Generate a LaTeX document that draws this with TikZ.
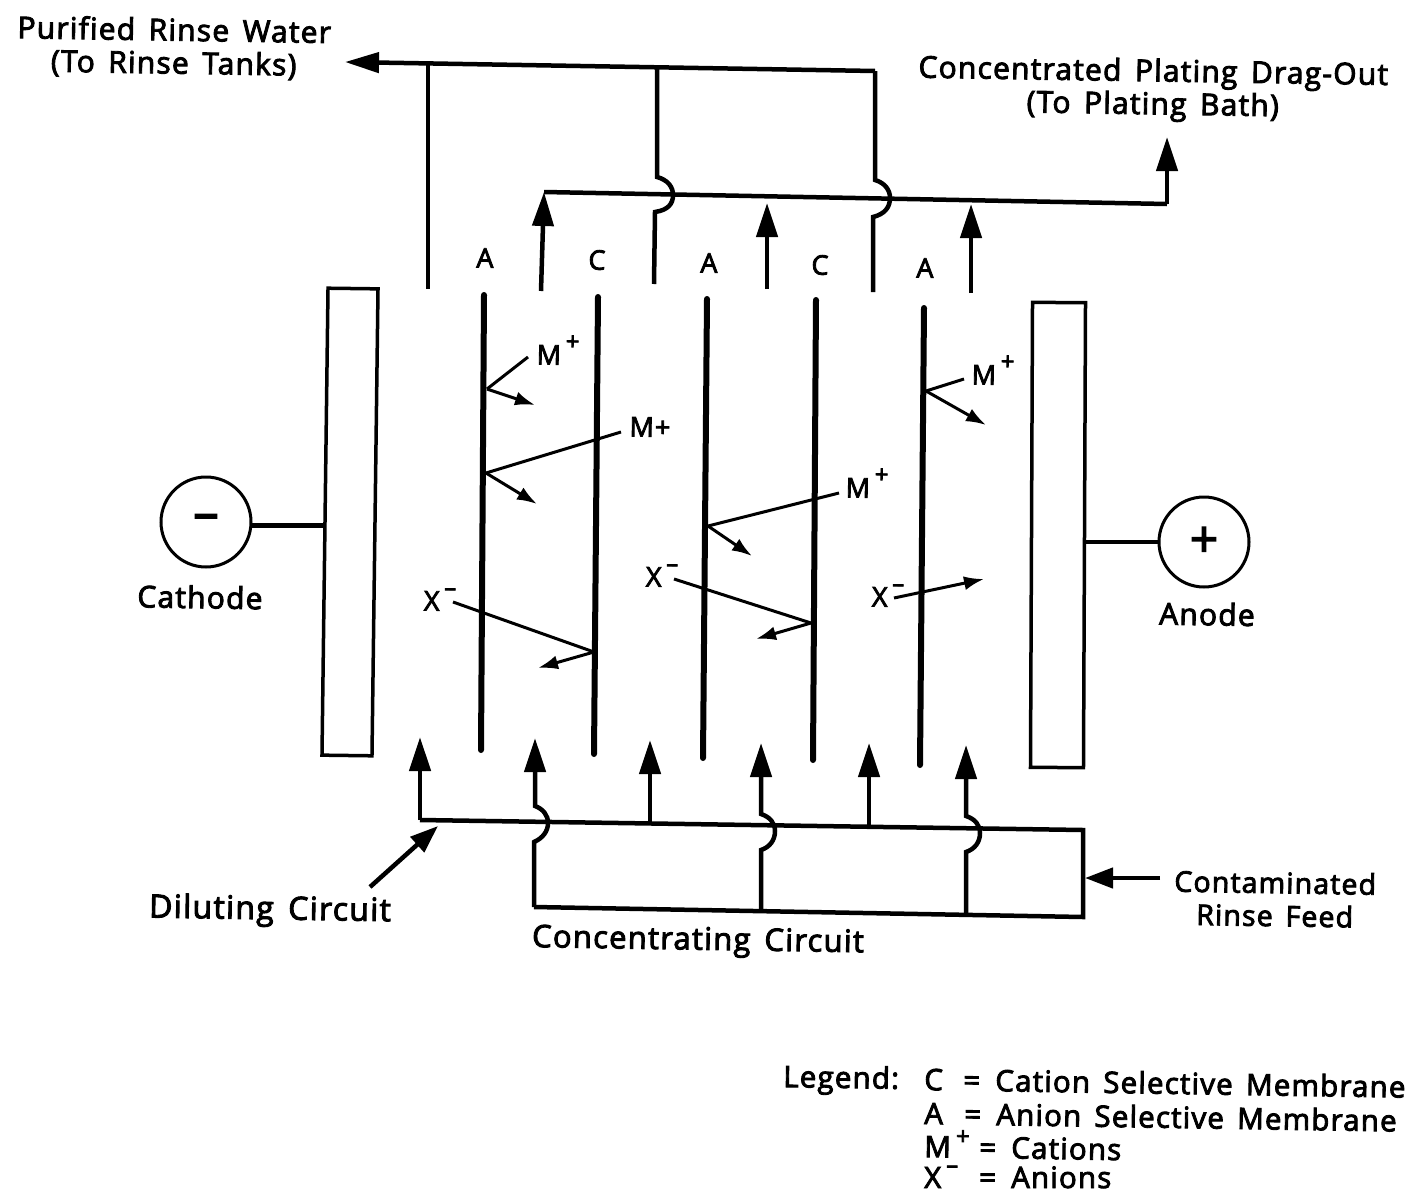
\documentclass[tikz,border=0pt]{standalone}
\usepackage{fontspec}
\setmainfont[WordSpace=1.5,LetterSpace=4,Ligatures=NoCommon,RawFeature={embolden=3}]{Open Sans}
\usetikzlibrary{arrows.meta,positioning}
\newcommand{\ionup}[2]{\smash{\raisebox{#1}{\fontsize{24}{24}\selectfont #2}}}

\begin{document}
\begin{tikzpicture}[
x=1pt, y=-1pt,
pipe/.style={line width=4.5pt},
flow/.style={pipe, -{Triangle[length=34pt, width=21pt]}},
thinline/.style={line width=3pt},
ionarrow/.style={thinline, -{Latex[length=20pt, width=14pt]}},
membrane/.style={line width=6pt, line cap=round},
plate/.style={rectangle, draw, line width=3.5pt, minimum width=50pt, minimum height=467pt, inner sep=0pt},
terminal/.style={circle, draw, line width=3pt, minimum size=90pt, inner sep=0pt, font=\fontsize{50}{50}\selectfont},
lbl/.style={font=\fontsize{30}{33}\selectfont, align=center, inner sep=0pt, rotate=-0.9},
small/.style={font=\fontsize{27}{30}\selectfont, inner sep=0pt, rotate=-0.9},
leg/.style={font=\fontsize{29.5}{33}\selectfont, inner sep=0pt, rotate=-0.9, anchor=base west}
]
\useasboundingbox (0,0) rectangle (1406,1194);

% electrodes
\node[plate, rotate=-0.74] (cathodeplate) at (350,522) {};
\node[plate, rotate=-0.25, minimum width=53pt, minimum height=465pt] (anodeplate) at (1058,535) {};
\node[terminal] (minus) at (206,522) {\raisebox{-3pt}{–}};
\node[terminal] (plus) at (1204,542) {\raisebox{-3pt}{+}};
\draw[pipe] (minus.-4) -- (minus.-4 -| cathodeplate.west);
\draw[pipe] (plus.west) -- (plus.west -| anodeplate.east);

% membranes
\foreach \nm/\xa/\ya/\xb/\yb in {aone/484/295/481/750, cone/598/297/594/754, atwo/707/299/703/758, ctwo/816/300/813/760, athree/924/308/920/765} {
  \coordinate (\nm top) at (\xa,\ya);
  \coordinate (\nm bot) at (\xb,\yb);
  \draw[membrane] (\nm top) -- (\nm bot);
}
\node[small] (aonelbl) at (485,258) {A};
\node[small] (conelbl) at (597,260) {C};
\node[small] (atwolbl) at (709,263) {A};
\node[small] (ctwolbl) at (820,265) {C};
\node[small] (athreelbl) at (925,268) {A};

% purified water, top
\coordinate (rinseout) at (345,62);
\coordinate (rinsecorner) at (875,71);
\coordinate (dilone) at (428,289);
\coordinate (diloneup) at (428,64);
\coordinate (diltwoup) at (657,68);
\coordinate (diltwo) at (654,284);
\coordinate (dilthree) at (873,292);
\draw[pipe, -{Triangle[length=34pt, width=20pt]}] (rinsecorner) -- (rinseout);
\draw[pipe] (diloneup) -- (dilone);
\draw[pipe] (diltwoup) -- (657,177) .. controls (668,180) and (673,187) .. (673,195) .. controls (673,204) and (668,210) .. (655,212) -- (diltwo);
\draw[pipe] (rinsecorner) -- (875,180) .. controls (885,183) and (890,190) .. (890,198) .. controls (890,207) and (885,214) .. (873,217) -- (dilthree);

% concentrate, top
\coordinate (concstart) at (544,192);
\coordinate (conccorner) at (1167,204);
\coordinate (concout) at (1167,137);
\coordinate (concone) at (541,291);
\coordinate (conctwo) at (767,289);
\coordinate (conctwoup) at (767,203);
\coordinate (concthree) at (971,293);
\coordinate (concthreeup) at (971,204);
\draw[pipe] (concstart) -- (conccorner);
\draw[flow] (conccorner) -- (concout);
\draw[flow] (concone) -- (concstart);
\draw[flow] (conctwo) -- (conctwoup);
\draw[flow] (concthree) -- (concthreeup);

% feed, bottom
\coordinate (feedleft) at (420,820);
\coordinate (feedright) at (1083,830);
\coordinate (feedbot) at (1083,917);
\coordinate (botleft) at (534,907);
\coordinate (feedin) at (1160,878);
\coordinate (feedtip) at (1085,878);
\draw[flow] (botleft) -- (534,842) .. controls (543,838) and (548,831) .. (548,823) .. controls (548,815) and (543,809) .. (535,806) -- (535,738);
\draw[pipe] (botleft) -- (feedbot) -- (feedright) -- (feedleft);
\draw[flow] (feedleft) -- (420,737);
\coordinate (feedtwo) at (650,823);
\coordinate (feedthree) at (869,828);
\draw[flow] (feedtwo) -- (650,740);
\draw[flow] (feedthree) -- (869,743);
\coordinate (botmid) at (761,912);
\coordinate (botright) at (966,915);
\draw[flow] (botmid) -- (761,850) .. controls (770,847) and (775,840) .. (775,831) .. controls (775,823) and (770,817) .. (761,814) -- (761,743);
\draw[flow] (botright) -- (966,852) .. controls (975,849) and (980,842) .. (980,833) .. controls (980,825) and (975,819) .. (966,816) -- (966,745);
\draw[pipe, -{Triangle[length=28pt, width=20pt]}] (feedin) -- (feedtip);
\coordinate (dilfrom) at (370,887);
\coordinate (diltip) at (438,826);
\draw[pipe, -{Triangle[length=28pt, width=20pt]}] (dilfrom) -- (diltip);

% ions
\coordinate (mone) at (528,357);
\coordinate (monejoin) at (487,389);
\coordinate (monetip) at (535,405);
\coordinate (mtwo) at (621,432);
\coordinate (mtwojoin) at (486,473);
\coordinate (mtwotip) at (537,504);
\coordinate (mthree) at (839,493);
\coordinate (mthreejoin) at (708,526);
\coordinate (mthreetip) at (752,556);
\coordinate (mfour) at (964,379);
\coordinate (mfourjoin) at (926,391);
\coordinate (mfourtip) at (986,425);
\coordinate (xone) at (453,602);
\coordinate (xonejoin) at (594,652);
\coordinate (xonetip) at (538,668);
\coordinate (xtwo) at (674,579);
\coordinate (xtwojoin) at (811,623);
\coordinate (xtwotip) at (756,639);
\coordinate (xthree) at (894,598);
\coordinate (xthreetip) at (984,579);
\draw[thinline] (mone) -- (monejoin);
\draw[ionarrow] (monejoin) -- (monetip);
\draw[thinline] (mtwo) -- (mtwojoin);
\draw[ionarrow] (mtwojoin) -- (mtwotip);
\draw[thinline] (mthree) -- (mthreejoin);
\draw[ionarrow] (mthreejoin) -- (mthreetip);
\draw[thinline] (mfour) -- (mfourjoin);
\draw[ionarrow] (mfourjoin) -- (mfourtip);
\draw[thinline] (xone) -- (xonejoin);
\draw[ionarrow] (xonejoin) -- (xonetip);
\draw[thinline] (xtwo) -- (xtwojoin);
\draw[ionarrow] (xtwojoin) -- (xtwotip);
\draw[ionarrow] (xthree) -- (xthreetip);

\node[small] (monelbl) at (558,355) {M\,\ionup{15pt}{+}};
\node[small] (mtwolbl) at (650,427) {M+};
\node[small] (mthreelbl) at (867,488) {M\,\ionup{15pt}{+}};
\node[small] (mfourlbl) at (993,375) {M\,\ionup{15pt}{+}};
\node[small] (xonelbl) at (440,601) {X\,\ionup{15pt}{–}};
\node[small] (xtwolbl) at (662,577) {X\,\ionup{15pt}{–}};
\node[small] (xthreelbl) at (888,597) {X\,\ionup{15pt}{–}};

% labels
\node[lbl] (rinselbl) at (174,48) {Purified Rinse Water\\(To Rinse Tanks)};
\node[lbl] (platelbl) at (1153,90) {Concentrated Plating Drag-Out\\(To Plating Bath)};
\node[lbl] (cathodelbl) at (200,597) {Cathode};
\node[lbl] (anodelbl) at (1207,614) {Anode};
\node[lbl, font=\fontsize{32}{33}\selectfont] (diluting) at (270,911) {Diluting Circuit};
\node[lbl, font=\fontsize{31}{33}\selectfont] (concentrating) at (698,942) {Concentrating Circuit};
\node[lbl, font=\fontsize{28.5}{33}\selectfont] (feedlbl) at (1275,899) {Contaminated\\Rinse Feed};

% legend
\node[leg] (legend) at (783,1087) {Legend:};
\node[leg] (legc) at (924,1090) {\makebox[39pt][l]{C}\makebox[32pt][l]{=}Cation Selective Membrane};
\node[leg] (lega) at (924,1124) {\makebox[40pt][l]{A}\makebox[32pt][l]{=}Anion Selective Membrane};
\node[leg] (legm) at (924,1157) {\makebox[55pt][l]{M\,\ionup{13pt}{+}}\makebox[32pt][l]{=}Cations};
\node[leg, rotate=0.9] (legx) at (924,1188) {\makebox[55pt][l]{X\,\ionup{15pt}{–}}\makebox[32pt][l]{=}Anions};
\end{tikzpicture}
\end{document}
